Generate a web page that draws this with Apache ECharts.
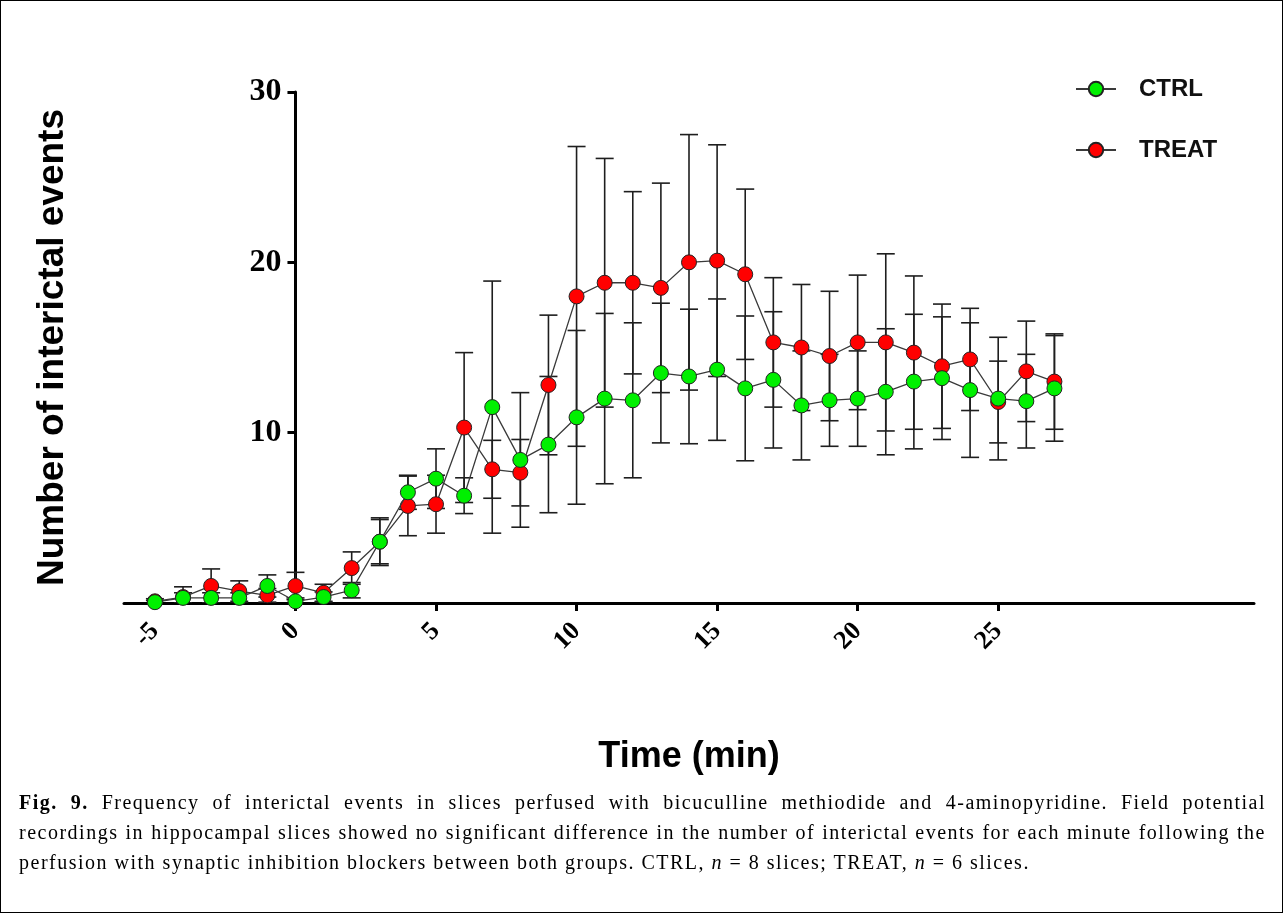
<!DOCTYPE html>
<html>
<head>
<meta charset="utf-8">
<script src="https://cdn.jsdelivr.net/npm/echarts@6/dist/echarts.min.js"></script>
<style>
    html, body { margin: 0; padding: 0; background: #fff; }
    .fig { position: relative; width: 1283px; height: 913px; box-sizing: border-box; border: 1px solid #000; overflow: hidden; }
    #chart { position: absolute; left: 0; top: 0; width: 1283px; height: 913px; }
    .caption {
        position: absolute; left: 18px; top: 786px; width: 1247px;
        font-family: 'Liberation Serif', 'Times New Roman', serif;
        font-size: 20px; line-height: 30px; color: #000;
        letter-spacing: 1.5px;
        text-align: justify;
    }
</style>
</head>
<body>
<div class="fig">
    <div id="chart"></div>
    <div class="caption"><b>Fig. 9.</b> Frequency of interictal events in slices perfused with bicuculline methiodide and 4-aminopyridine. Field potential recordings in hippocampal slices showed no significant difference in the number of interictal events for each minute following the perfusion with synaptic inhibition blockers between both groups. CTRL, <i>n</i> = 8 slices; TREAT, <i>n</i> = 6 slices.</div>
</div>
<script>
    // time points (min)
    var time = [-5, -4, -3, -2, -1, 0, 1, 2, 3, 4, 5, 6, 7, 8, 9, 10, 11, 12, 13, 14, 15, 16, 17, 18, 19, 20, 21, 22, 23, 24, 25, 26, 27];

    // CTRL mean / error
    var ctrlMean = [0.05, 0.3, 0.3, 0.3, 1.0, 0.1, 0.35, 0.75, 3.6, 6.5, 7.3, 6.3, 11.5, 8.4, 9.3, 10.9, 12.0, 11.9, 13.5, 13.3, 13.7, 12.6, 13.1, 11.6, 11.9, 12.0, 12.4, 13.0, 13.2, 12.5, 12.0, 11.85, 12.6];
    var ctrlErr = [0.1, 0.3, 0.3, 0.3, 0.65, 0.2, 0.3, 0.45, 1.3, 1.0, 1.75, 1.05, 7.4, 3.95, 4.0, 5.1, 5.0, 4.55, 4.1, 3.95, 4.15, 4.25, 4.0, 3.2, 2.7, 2.8, 3.7, 3.95, 3.6, 3.95, 3.6, 2.75, 3.1];

    // TREAT mean / error
    var treatMean = [0.1, 0.35, 1.0, 0.7, 0.45, 1.0, 0.6, 2.05, 3.6, 5.7, 5.8, 10.3, 7.85, 7.65, 12.8, 18.0, 18.8, 18.8, 18.5, 20.0, 20.1, 19.3, 15.3, 15.0, 14.5, 15.3, 15.3, 14.7, 13.9, 14.3, 11.8, 13.6, 13.0];
    var treatErr = [0.15, 0.6, 1.0, 0.6, 0.4, 0.8, 0.5, 0.95, 1.4, 1.75, 1.7, 4.4, 1.7, 1.95, 4.1, 8.8, 7.3, 5.35, 6.15, 7.5, 6.8, 5.0, 3.8, 3.7, 3.8, 3.95, 5.2, 4.5, 3.65, 3.0, 2.4, 2.95, 2.8];

    // tick labels
    var xLabels = [-5, 0, 5, 10, 15, 20, 25];
    var xTicks = [0, 5, 10, 15, 20, 25];
    var yLabels = [10, 20, 30];

    var xMin = -6.1, xMax = 34.1;
    var gridLeft = 123, gridRight = 30;
    // y 轴放在 x=0 处
    var yOffset = -(1283 - gridLeft - gridRight) * (0 - xMin) / (xMax - xMin);

    function pairs(mean) {
        return time.map(function (t, i) { return [t, mean[i]]; });
    }
    function bars(mean, err) {
        return time.map(function (t, i) { return [t, mean[i] - err[i], mean[i] + err[i]]; });
    }

    // 误差线
    function renderError(params, api) {
        var x = api.value(0);
        var top = api.coord([x, api.value(2)]);
        var bot = api.coord([x, api.value(1)]);
        var half = 9;
        var style = { stroke: '#1e1e1e', lineWidth: 1.6 };
        return {
            type: 'group',
            children: [
                { type: 'line', shape: { x1: top[0], y1: top[1], x2: bot[0], y2: bot[1] }, style: style },
                { type: 'line', shape: { x1: top[0] - half, y1: top[1], x2: top[0] + half, y2: top[1] }, style: style },
                { type: 'line', shape: { x1: bot[0] - half, y1: bot[1], x2: bot[0] + half, y2: bot[1] }, style: style }
            ]
        };
    }

    var myChart = echarts.init(document.getElementById('chart'));
    myChart.setOption({
        animation: false,
        grid: {
            left: gridLeft,
            right: gridRight,
            top: 91,
            bottom: 311,
            outerBoundsMode: 'none'
        },
        legend: {
            orient: 'vertical',
            left: 1074,
            top: 76,
            padding: 0,
            itemWidth: 40,
            itemHeight: 18,
            itemGap: 37,
            data: ['CTRL', 'TREAT'],
            textStyle: {
                fontFamily: 'Liberation Sans',
                fontWeight: 'bold',
                fontSize: 24,
                lineHeight: 24,
                color: '#111',
                padding: [0, 0, 0, 18]
            }
        },
        xAxis: {
            type: 'value',
            min: xMin,
            max: xMax,
            name: 'Time (min)',
            nameLocation: 'middle',
            nameGap: 136,
            nameMoveOverlap: false,
            nameTextStyle: {
                fontFamily: 'Liberation Sans',
                fontWeight: 'bold',
                fontSize: 36,
                color: '#000'
            },
            splitLine: { show: false },
            axisLine: { onZero: false, lineStyle: { color: '#000', width: 3 } },
            axisTick: {
                customValues: xTicks,
                length: 8,
                lineStyle: { color: '#000', width: 3 }
            },
            axisLabel: {
                customValues: xLabels,
                rotate: 45,
                margin: 24,
                fontFamily: 'Liberation Serif',
                fontWeight: 'bold',
                fontSize: 26,
                color: '#000'
            }
        },
        yAxis: {
            type: 'value',
            min: 0,
            max: 30,
            interval: 10,
            offset: yOffset,
            name: 'Number of interictal events',
            nameLocation: 'middle',
            nameGap: 224,
            nameMoveOverlap: false,
            nameTextStyle: {
                fontFamily: 'Liberation Sans',
                fontWeight: 'bold',
                fontSize: 37,
                color: '#000'
            },
            splitLine: { show: false },
            axisLine: { show: true, onZero: false, lineStyle: { color: '#000', width: 3 } },
            axisTick: { show: true, length: 8, lineStyle: { color: '#000', width: 3 } },
            axisLabel: {
                customValues: yLabels,
                margin: 14,
                fontFamily: 'Liberation Serif',
                fontWeight: 'bold',
                fontSize: 32,
                color: '#000'
            }
        },
        series: [
            {
                type: 'custom',
                name: 'err-treat',
                renderItem: renderError,
                encode: { x: 0, y: [1, 2] },
                data: bars(treatMean, treatErr),
                clip: true,
                z: 1
            },
            {
                type: 'custom',
                name: 'err-ctrl',
                renderItem: renderError,
                encode: { x: 0, y: [1, 2] },
                data: bars(ctrlMean, ctrlErr),
                clip: true,
                z: 1
            },
            {
                name: 'TREAT',
                type: 'line',
                data: pairs(treatMean),
                symbol: 'circle',
                symbolSize: 15,
                lineStyle: { color: '#3a3a3a', width: 1.3 },
                itemStyle: { color: '#ff0000', borderColor: '#222', borderWidth: 1 },
                z: 2
            },
            {
                name: 'CTRL',
                type: 'line',
                data: pairs(ctrlMean),
                symbol: 'circle',
                symbolSize: 15,
                lineStyle: { color: '#3a3a3a', width: 1.3 },
                itemStyle: { color: '#00f000', borderColor: '#222', borderWidth: 1 },
                z: 3
            }
        ]
    });
</script>
</body>
</html>
